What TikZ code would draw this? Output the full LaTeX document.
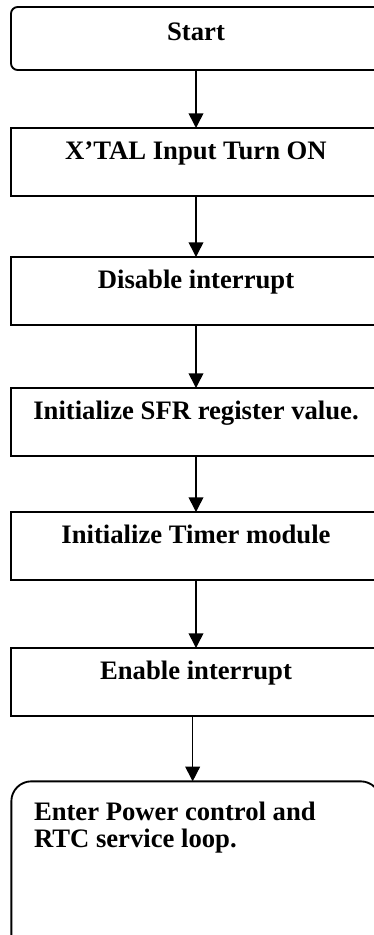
\documentclass[tikz,border=0pt]{standalone}
\usepackage{fontspec}
\setmainfont{Liberation Serif}
\usetikzlibrary{arrows.meta, positioning}

\begin{document}
\begin{tikzpicture}[
        x=0.75pt, y=-0.75pt,
        stepbox/.style={rectangle, draw=black, line width=1.4pt, outer sep=0pt, minimum width=277.5pt, inner xsep=0pt, inner ysep=0pt, text height=23.5pt, text depth=27.5pt, align=center, font=\fontsize{20}{20.25}\selectfont\bfseries},
        loopbox/.style={rectangle, draw=black, line width=1.4pt, outer sep=0pt, rounded corners=15pt, text width=243pt, inner xsep=17pt, inner ysep=0pt, text height=29.25pt, text depth=150pt, align=flush left, font=\fontsize{20}{20.25}\selectfont\bfseries},
        line/.style={draw=black, line width=1.2pt, -{Triangle[length=11pt, width=11pt]}}
    ]
    \clip (0,0) rectangle (374,935);
    % Nodes
    \node (start) [stepbox, rounded corners=5pt, text height=24.75pt, text depth=22.5pt, anchor=north] at (196,7) {Start};
    \node (xtal) [stepbox, below=43.5pt of start] {X’TAL Input Turn ON};
    \node (disint) [stepbox, below=45.75pt of xtal] {Disable interrupt};
    \node (sfr) [stepbox, below=47.25pt of disint] {Initialize SFR register value.};
    \node (timer) [stepbox, below=42pt of sfr] {Initialize Timer module};
    \node (enint) [stepbox, below=51pt of timer] {Enable interrupt};
    \node (loop) [loopbox, below=49pt of enint] {Enter Power control and\\RTC service loop.};

    % Connectors
    \path [line] (start) -- (xtal);
    \path [line] (xtal) -- (disint);
    \path [line] (disint) -- (sfr);
    \path [line] (sfr) -- (timer);
    \path [line] (timer) -- (enint);
    \path [line] ([xshift=-2.5pt]enint.south) -- ([xshift=-2.5pt]loop.north);
\end{tikzpicture}
\end{document}
